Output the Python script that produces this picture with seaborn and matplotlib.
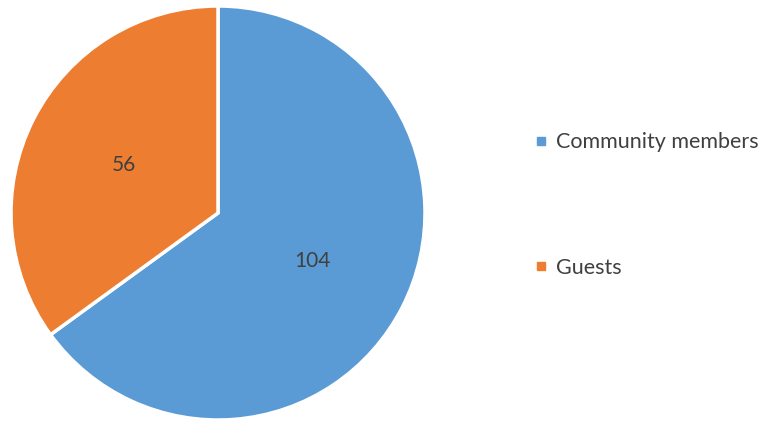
import matplotlib.pyplot as plt
import seaborn as sns
from matplotlib.lines import Line2D

# data
labels = ['Community members', 'Guests']
counts = [104, 56]
colors = ['#5B9BD5', '#ED7D31']

sns.set_theme(style='white')
plt.rcParams['font.family'] = ['Lato', 'DejaVu Sans']

fig = plt.figure(figsize=(7.73, 4.21), dpi=100)
ax = fig.add_axes([11 / 773, 1 / 421, 414 / 773, 414 / 421])

ax.pie(counts, colors=colors, startangle=90, counterclock=False,
       autopct=lambda p: '%d' % round(p * sum(counts) / 100),
       pctdistance=0.51,
       wedgeprops=dict(edgecolor='white', linewidth=2.5),
       textprops=dict(color='#404040', fontsize=15))
ax.set_aspect('equal')
ax.set_xlim(-1, 1)
ax.set_ylim(-1, 1)

handles = [Line2D([0], [0], marker='s', linestyle='', markersize=6,
                  markerfacecolor=c, markeredgecolor=c) for c in colors]
fig.legend(handles, labels, loc='center left',
           bbox_to_anchor=(513 / 773, 1 - 205 / 421), frameon=False,
           fontsize=15.5, labelcolor='#404040', labelspacing=4.9,
           handlelength=0.8, handletextpad=0.3)

fig.savefig('out.png', dpi=100)
